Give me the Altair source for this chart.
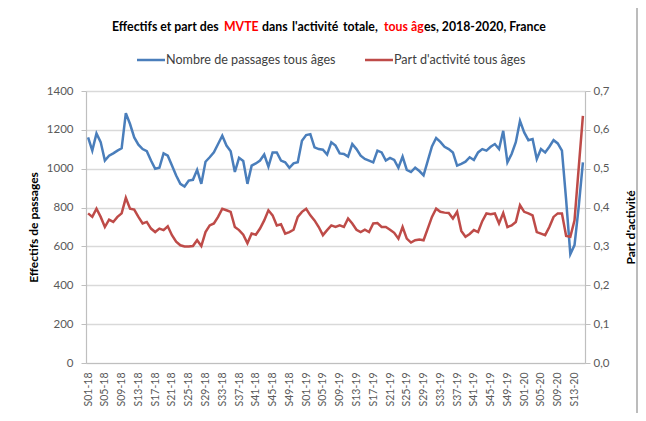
import altair as alt
import pandas as pd

weeks = ([f"S{w:02d}-18" for w in range(1, 53)]
         + [f"S{w:02d}-19" for w in range(1, 53)]
         + [f"S{w:02d}-20" for w in range(1, 16)])
tick_labels = weeks[::4]

passages = [
    1161, 1093, 1182, 1137, 1042, 1067, 1079, 1093, 1105, 1286,
    1230, 1161, 1124, 1101, 1090, 1042, 1000, 1005, 1079, 1067,
    1016, 965, 922, 908, 939, 943, 994, 922, 1036, 1059,
    1084, 1127, 1170, 1119, 1090, 983, 1056, 1040, 922, 1016,
    1027, 1042, 1073, 1011, 1084, 1084, 1042, 1033, 1005, 1028,
    1033, 1144, 1173, 1178, 1110, 1101, 1098, 1073, 1136, 1119,
    1079, 1076, 1062, 1127, 1101, 1067, 1050, 1042, 1033, 1093,
    1084, 1042, 1056, 1045, 1005, 1062, 994, 983, 1005, 988,
    966, 1040, 1115, 1158, 1138, 1113, 1101, 1084, 1016, 1025,
    1036, 1059, 1045, 1084, 1101, 1093, 1113, 1127, 1101, 1195,
    1033, 1076, 1136, 1246, 1187, 1147, 1153, 1050, 1101, 1084,
    1113, 1147, 1130, 1093, 840, 560, 607, 804, 1033,
]

part = [
    0.385, 0.376, 0.397, 0.376, 0.350, 0.369, 0.363, 0.376, 0.385, 0.425,
    0.397, 0.395, 0.376, 0.359, 0.363, 0.346, 0.337, 0.346, 0.342, 0.352,
    0.329, 0.312, 0.303, 0.300, 0.300, 0.301, 0.316, 0.301, 0.337, 0.354,
    0.359, 0.376, 0.397, 0.393, 0.389, 0.350, 0.342, 0.330, 0.308, 0.333,
    0.330, 0.346, 0.367, 0.393, 0.380, 0.354, 0.357, 0.333, 0.337, 0.343,
    0.376, 0.389, 0.397, 0.380, 0.367, 0.350, 0.329, 0.342, 0.354, 0.350,
    0.354, 0.350, 0.372, 0.359, 0.343, 0.337, 0.343, 0.337, 0.359, 0.360,
    0.350, 0.350, 0.343, 0.335, 0.320, 0.350, 0.320, 0.310, 0.316, 0.318,
    0.316, 0.346, 0.376, 0.397, 0.389, 0.387, 0.386, 0.372, 0.389, 0.340,
    0.325, 0.332, 0.342, 0.337, 0.365, 0.385, 0.383, 0.385, 0.359, 0.386,
    0.350, 0.354, 0.363, 0.406, 0.389, 0.385, 0.380, 0.337, 0.333, 0.329,
    0.350, 0.376, 0.385, 0.385, 0.327, 0.325, 0.367, 0.502, 0.636,
]

left_ticks = [0, 200, 400, 600, 800, 1000, 1200, 1400]
right_ticks = [0.0, 0.1, 0.2, 0.3, 0.4, 0.5, 0.6, 0.7]

title_parts = ["Effectifs et part des", "MVTE", "dans", "l'activité", "totale,",
               "tous âg", "es, 2018-2020, France"]
title_colors = ["#000000", "#ff0000", "#000000", "#000000", "#000000",
                "#ff0000", "#000000"]
title_x = [26, 138, 176, 206, 257, 298, 338]

legend_labels = ["Nombre de passages tous âges", "Part d'activité tous âges"]
BLUE = "#4a7ebb"
RED = "#be4b48"

W, H = 499, 272
FONT = "Lato"
GREY = "#595959"

df = pd.DataFrame({"semaine": weeks, "passages": passages, "part": part})
one = pd.DataFrame({"k": [0]})

x_enc = alt.X(
    "semaine:O", sort=weeks, scale=alt.Scale(padding=0.5),
    axis=alt.Axis(values=tick_labels, labelAngle=270, title=None, grid=False,
                  ticks=False, domainColor="#bfbfbf", domainWidth=1.2,
                  labelColor=GREY, labelFont=FONT, labelFontSize=10.5,
                  labelPadding=9),
)

blue = alt.Chart(df).mark_line(color=BLUE, strokeWidth=2.5).encode(
    x=x_enc,
    y=alt.Y("passages:Q", scale=alt.Scale(domain=[0, 1400], nice=False),
            axis=alt.Axis(values=left_ticks, format="d", title="Effectifs de passages",
                          grid=True, gridColor="#d9d9d9", gridWidth=1.5,
                          domainColor="#bfbfbf", domainWidth=1.2,
                          tickColor="#bfbfbf", tickSize=5,
                          labelColor=GREY, labelFont=FONT, labelFontSize=11.5,
                          labelPadding=8,
                          titleFont=FONT, titleFontSize=12, titleFontWeight="bold",
                          titleColor="#000000", titleAngle=270, titleX=-53, titleY=H / 2,
                          titleAlign="center", titleBaseline="middle")),
)

red = alt.Chart(df).mark_line(color=RED, strokeWidth=2.5).encode(
    x=x_enc,
    y=alt.Y("part:Q", scale=alt.Scale(domain=[0, 0.7], nice=False),
            axis=alt.Axis(orient="right", values=right_ticks,
                          labelExpr="replace(format(datum.value, '.1f'), '.', ',')",
                          title="Part d'activité", grid=False,
                          domainColor="#bfbfbf", domainWidth=1.2,
                          tickColor="#bfbfbf", tickSize=5,
                          labelColor=GREY, labelFont=FONT, labelFontSize=11.5,
                          labelPadding=3,
                          titleFont=FONT, titleFontSize=12, titleFontWeight="bold",
                          titleColor="#000000", titleAngle=270, titleX=45, titleY=H / 2,
                          titleAlign="center", titleBaseline="middle")),
)

lines = alt.layer(blue, red).resolve_scale(y="independent")

deco = []
frame = alt.Chart(one).mark_rect(filled=False, stroke="#a6a6a6", strokeWidth=1.5).encode(
    x=alt.value(-79), x2=alt.value(551), y=alt.value(-84), y2=alt.value(345))
deco.append(frame)
for txt, col, xx in zip(title_parts, title_colors, title_x):
    deco.append(alt.Chart(one).mark_text(
        text=txt, color=col, font=FONT, fontSize=12.3, fontWeight="bold",
        align="left", baseline="middle").encode(x=alt.value(xx), y=alt.value(-64)))

leg_x = [51, 279]
for lab, col, lx in zip(legend_labels, [BLUE, RED], leg_x):
    deco.append(alt.Chart(one).mark_rule(color=col, strokeWidth=2.5).encode(
        x=alt.value(lx), x2=alt.value(lx + 28), y=alt.value(-31)))
    deco.append(alt.Chart(one).mark_text(
        text=lab, color="#404040", font=FONT, fontSize=12.6,
        align="left", baseline="middle").encode(x=alt.value(lx + 29), y=alt.value(-31)))

chart = alt.layer(lines, *deco).properties(
    width=W, height=H,
    autosize=alt.AutoSizeParams(type="none"),
    padding={"left": 78, "top": 83, "right": 53, "bottom": 50},
    background="white",
).configure_view(stroke=None)

chart.save("out.html", embed_options={"renderer": "svg", "actions": False})
